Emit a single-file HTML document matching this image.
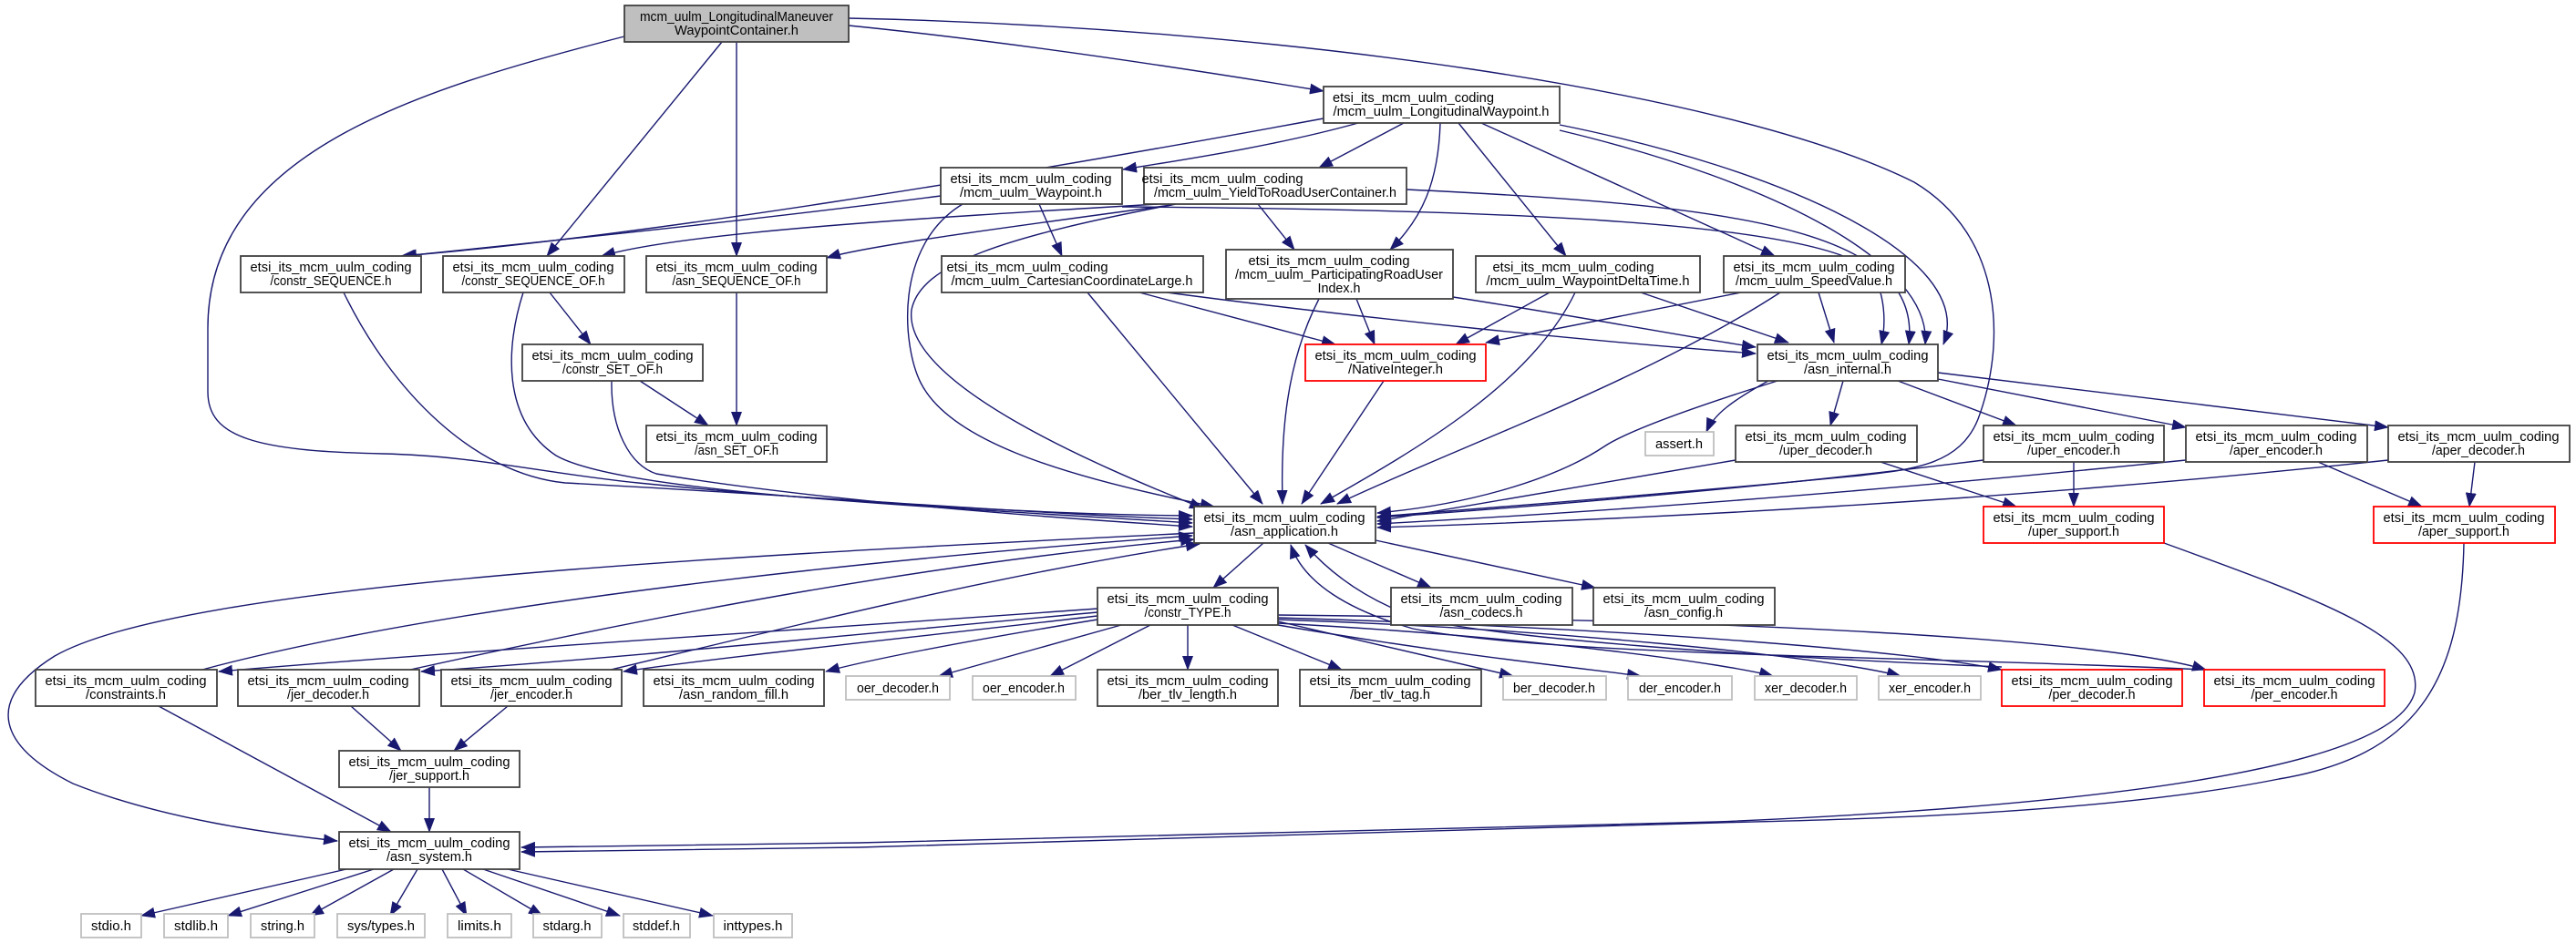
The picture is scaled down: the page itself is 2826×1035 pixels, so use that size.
<!DOCTYPE html>
<html><head><meta charset="utf-8"><style>
html,body{margin:0;padding:0;background:#fff;}
svg{display:block;}
text{font-family:"Liberation Sans Narrow","Liberation Sans",sans-serif;font-size:15px;fill:#000;text-anchor:middle;}
.e path{fill:none;stroke:#191970;stroke-width:1.4;}
.b{fill:#fff;stroke:#404040;stroke-width:1.8;}
.g{fill:#fff;stroke:#bfbfbf;stroke-width:1.8;}
.r{fill:#fff;stroke:#ff0000;stroke-width:1.8;}
</style></head><body>
<svg width="2826" height="1035" viewBox="0 0 2826 1035" xmlns="http://www.w3.org/2000/svg">
<defs><marker id="a" markerWidth="16" markerHeight="12" refX="15" refY="6" orient="auto" markerUnits="userSpaceOnUse"><path d="M0,0 L16,6 L0,12 z" fill="#191970"/></marker></defs>
<g class="e" marker-end="url(#a)">
<path d="M931,28 C1100,45 1300,75 1452,100" marker-end="url(#a)"/>
<path d="M931,20 C1400,30 1900,100 2100,200 C2200,260 2200,380 2170,460 C2150,510 2100,515 2040,522 C1800,545 1600,560 1511,567" marker-end="url(#a)"/>
<path d="M685,40 C450,100 228,170 228,360 L228,430 C228,480 280,495 420,498 C520,500 600,520 700,530 C900,550 1150,565 1308,566" marker-end="url(#a)"/>
<path d="M792,46 L600,281" marker-end="url(#a)"/>
<path d="M808,46 L808,281" marker-end="url(#a)"/>
<path d="M1452,130 C1100,195 700,260 440,281" marker-end="url(#a)"/>
<path d="M1490,135 C1400,160 1300,175 1232,186" marker-end="url(#a)"/>
<path d="M1540,135 L1447,184" marker-end="url(#a)"/>
<path d="M1580,135 C1578,200 1560,240 1525,274" marker-end="url(#a)"/>
<path d="M1600,135 L1718,281" marker-end="url(#a)"/>
<path d="M1625,135 L1947,281" marker-end="url(#a)"/>
<path d="M1711,137 C1950,185 2170,280 2132,378" marker-end="url(#a)"/>
<path d="M1711,143 C1950,200 2120,290 2112,378" marker-end="url(#a)"/>
<path d="M1543,208 C1900,225 2110,250 2094,378" marker-end="url(#a)"/>
<path d="M1231,227 C1600,230 2000,240 2055,300 C2070,330 2068,360 2064,378" marker-end="url(#a)"/>
<path d="M1280,321 C1500,350 1750,375 1926,388" marker-end="url(#a)"/>
<path d="M1594,326 C1750,350 1850,370 1926,381" marker-end="url(#a)"/>
<path d="M1800,321 L1962,376" marker-end="url(#a)"/>
<path d="M1995,321 L2012,376" marker-end="url(#a)"/>
<path d="M1700,321 L1597,378" marker-end="url(#a)"/>
<path d="M1910,321 L1630,376" marker-end="url(#a)"/>
<path d="M1250,321 L1465,378" marker-end="url(#a)"/>
<path d="M1488,328 L1508,378" marker-end="url(#a)"/>
<path d="M1380,224 L1420,274" marker-end="url(#a)"/>
<path d="M1140,224 L1165,281" marker-end="url(#a)"/>
<path d="M377,321 C430,430 520,520 620,530 C900,545 1150,565 1308,570" marker-end="url(#a)"/>
<path d="M574,321 C555,380 550,460 610,500 C680,540 1000,555 1308,574" marker-end="url(#a)"/>
<path d="M671,418 C670,470 690,510 720,520 C900,550 1150,568 1308,578" marker-end="url(#a)"/>
<path d="M1056,224 C980,270 990,380 1010,420 C1040,480 1150,520 1332,556" marker-end="url(#a)"/>
<path d="M1290,224 C1100,260 1010,290 1000,340 C990,420 1200,510 1320,558" marker-end="url(#a)"/>
<path d="M1193,321 L1385,553" marker-end="url(#a)"/>
<path d="M1447,328 C1410,400 1405,480 1407,553" marker-end="url(#a)"/>
<path d="M1518,418 L1428,553" marker-end="url(#a)"/>
<path d="M1728,321 C1680,420 1560,490 1449,553" marker-end="url(#a)"/>
<path d="M1953,321 C1800,420 1600,490 1467,553" marker-end="url(#a)"/>
<path d="M1950,418 C1880,440 1790,470 1760,490 C1700,530 1600,555 1511,563" marker-end="url(#a)"/>
<path d="M1904,505 L1511,572" marker-end="url(#a)"/>
<path d="M2176,505 C1900,540 1600,562 1511,568" marker-end="url(#a)"/>
<path d="M2398,505 C2000,545 1700,565 1511,575" marker-end="url(#a)"/>
<path d="M2620,505 C2200,550 1800,570 1511,579" marker-end="url(#a)"/>
<path d="M1940,418 C1900,440 1880,455 1872,474" marker-end="url(#a)"/>
<path d="M2022,418 L2008,467" marker-end="url(#a)"/>
<path d="M2082,418 L2212,467" marker-end="url(#a)"/>
<path d="M2126,416 L2398,469" marker-end="url(#a)"/>
<path d="M2126,409 L2620,469" marker-end="url(#a)"/>
<path d="M2063,507 L2212,556" marker-end="url(#a)"/>
<path d="M2275,507 L2275,556" marker-end="url(#a)"/>
<path d="M2543,507 L2657,556" marker-end="url(#a)"/>
<path d="M2715,507 L2709,556" marker-end="url(#a)"/>
<path d="M2374,596 C2550,660 2660,700 2649,760 C2630,830 2400,880 1884,902 L942,925 L572,930" marker-end="url(#a)"/>
<path d="M2703,596 C2700,750 2650,830 2500,855 C2300,895 2000,900 1884,903 L942,930 L572,935" marker-end="url(#a)"/>
<path d="M1310,585 C800,610 200,640 60,720 C-20,770 0,820 80,860 C180,900 300,915 370,923" marker-end="url(#a)"/>
<path d="M1204,668 C900,690 500,715 240,737" marker-end="url(#a)"/>
<path d="M222,735 C500,660 1000,610 1308,588" marker-end="url(#a)"/>
<path d="M1204,672 C900,700 650,725 462,737" marker-end="url(#a)"/>
<path d="M450,735 C700,680 1000,620 1310,592" marker-end="url(#a)"/>
<path d="M1204,676 C1000,700 800,720 684,737" marker-end="url(#a)"/>
<path d="M670,735 C900,680 1100,630 1316,597" marker-end="url(#a)"/>
<path d="M1204,680 C1050,705 950,725 906,737" marker-end="url(#a)"/>
<path d="M1230,686 L1030,742" marker-end="url(#a)"/>
<path d="M1262,686 L1152,742" marker-end="url(#a)"/>
<path d="M1303,686 L1303,735" marker-end="url(#a)"/>
<path d="M1352,686 L1472,735" marker-end="url(#a)"/>
<path d="M1402,682 L1660,742" marker-end="url(#a)"/>
<path d="M1402,686 C1600,720 1750,735 1800,742" marker-end="url(#a)"/>
<path d="M1402,684 C1700,700 1900,730 1945,742" marker-end="url(#a)"/>
<path d="M1402,680 C1700,690 2000,720 2085,742" marker-end="url(#a)"/>
<path d="M1402,678 C1800,690 2100,715 2196,735" marker-end="url(#a)"/>
<path d="M1402,675 C1900,680 2300,700 2420,735" marker-end="url(#a)"/>
<path d="M2196,732 C1900,720 1650,700 1560,680 C1500,660 1460,630 1432,598" marker-end="url(#a)"/>
<path d="M2418,735 C2100,720 1700,720 1550,690 C1480,670 1430,640 1416,598" marker-end="url(#a)"/>
<path d="M1386,596 L1331,645" marker-end="url(#a)"/>
<path d="M1457,596 L1570,645" marker-end="url(#a)"/>
<path d="M1509,593 L1750,645" marker-end="url(#a)"/>
<path d="M174,775 L429,913" marker-end="url(#a)"/>
<path d="M385,775 L440,824" marker-end="url(#a)"/>
<path d="M557,775 L498,824" marker-end="url(#a)"/>
<path d="M471,864 L471,913" marker-end="url(#a)"/>
<path d="M380,954 L155,1005" marker-end="url(#a)"/>
<path d="M410,954 L250,1005" marker-end="url(#a)"/>
<path d="M432,954 L340,1005" marker-end="url(#a)"/>
<path d="M458,954 L428,1005" marker-end="url(#a)"/>
<path d="M485,954 L512,1005" marker-end="url(#a)"/>
<path d="M508,954 L595,1005" marker-end="url(#a)"/>
<path d="M530,954 L680,1005" marker-end="url(#a)"/>
<path d="M557,954 L782,1005" marker-end="url(#a)"/>
<path d="M1270,224 C1000,240 750,255 660,281" marker-end="url(#a)"/>
<path d="M1285,225 C1100,250 950,270 907,283" marker-end="url(#a)"/>
<path d="M1032,215 C800,245 550,270 442,281" marker-end="url(#a)"/>
<path d="M603,321 L648,378" marker-end="url(#a)"/>
<path d="M808,321 L808,467" marker-end="url(#a)"/>
<path d="M702,418 L777,467" marker-end="url(#a)"/>
</g>

<!-- nodes -->
<rect x="685" y="6" width="246" height="40" fill="#bfbfbf" stroke="#404040" stroke-width="1.8"/>
<text x="808" y="23" textLength="212" lengthAdjust="spacingAndGlyphs">mcm_uulm_LongitudinalManeuver</text>
<text x="808" y="38" textLength="136" lengthAdjust="spacingAndGlyphs">WaypointContainer.h</text>

<rect class="b" x="1452" y="95" width="259" height="40"/>
<text x="1581" y="112" textLength="177" lengthAdjust="spacingAndGlyphs" style="text-anchor:start" transform="translate(-119,0)">etsi_its_mcm_uulm_coding</text>
<text x="1581" y="127" textLength="237" lengthAdjust="spacingAndGlyphs">/mcm_uulm_LongitudinalWaypoint.h</text>

<rect class="b" x="1032" y="184" width="199" height="40"/>
<text x="1131" y="201" textLength="177" lengthAdjust="spacingAndGlyphs">etsi_its_mcm_uulm_coding</text>
<text x="1131" y="216" textLength="156" lengthAdjust="spacingAndGlyphs">/mcm_uulm_Waypoint.h</text>

<rect class="b" x="1255" y="184" width="288" height="40"/>
<text x="1341" y="201" textLength="177" lengthAdjust="spacingAndGlyphs">etsi_its_mcm_uulm_coding</text>
<text x="1399" y="216" textLength="266" lengthAdjust="spacingAndGlyphs">/mcm_uulm_YieldToRoadUserContainer.h</text>

<rect class="b" x="264" y="281" width="198" height="40"/>
<text x="363" y="298" textLength="177" lengthAdjust="spacingAndGlyphs">etsi_its_mcm_uulm_coding</text>
<text x="363" y="313" textLength="133" lengthAdjust="spacingAndGlyphs">/constr_SEQUENCE.h</text>

<rect class="b" x="486" y="281" width="199" height="40"/>
<text x="585" y="298" textLength="177" lengthAdjust="spacingAndGlyphs">etsi_its_mcm_uulm_coding</text>
<text x="585" y="313" textLength="157" lengthAdjust="spacingAndGlyphs">/constr_SEQUENCE_OF.h</text>

<rect class="b" x="709" y="281" width="198" height="40"/>
<text x="808" y="298" textLength="177" lengthAdjust="spacingAndGlyphs">etsi_its_mcm_uulm_coding</text>
<text x="808" y="313" textLength="141" lengthAdjust="spacingAndGlyphs">/asn_SEQUENCE_OF.h</text>

<rect class="b" x="1033" y="281" width="287" height="40"/>
<text x="1127" y="298" textLength="177" lengthAdjust="spacingAndGlyphs">etsi_its_mcm_uulm_coding</text>
<text x="1176" y="313" textLength="265" lengthAdjust="spacingAndGlyphs">/mcm_uulm_CartesianCoordinateLarge.h</text>

<rect class="b" x="1345" y="274" width="249" height="54"/>
<text x="1458" y="291" textLength="177" lengthAdjust="spacingAndGlyphs">etsi_its_mcm_uulm_coding</text>
<text x="1469" y="306" textLength="228" lengthAdjust="spacingAndGlyphs">/mcm_uulm_ParticipatingRoadUser</text>
<text x="1469" y="321" textLength="47" lengthAdjust="spacingAndGlyphs">Index.h</text>

<rect class="b" x="1619" y="281" width="246" height="40"/>
<text x="1726" y="298" textLength="177" lengthAdjust="spacingAndGlyphs">etsi_its_mcm_uulm_coding</text>
<text x="1742" y="313" textLength="223" lengthAdjust="spacingAndGlyphs">/mcm_uulm_WaypointDeltaTime.h</text>

<rect class="b" x="1891" y="281" width="199" height="40"/>
<text x="1990" y="298" textLength="177" lengthAdjust="spacingAndGlyphs">etsi_its_mcm_uulm_coding</text>
<text x="1990" y="313" textLength="172" lengthAdjust="spacingAndGlyphs">/mcm_uulm_SpeedValue.h</text>

<rect class="b" x="573" y="378" width="198" height="40"/>
<text x="672" y="395" textLength="177" lengthAdjust="spacingAndGlyphs">etsi_its_mcm_uulm_coding</text>
<text x="672" y="410" textLength="110" lengthAdjust="spacingAndGlyphs">/constr_SET_OF.h</text>

<rect class="r" x="1432" y="378" width="198" height="40"/>
<text x="1531" y="395" textLength="177" lengthAdjust="spacingAndGlyphs">etsi_its_mcm_uulm_coding</text>
<text x="1531" y="410" textLength="104" lengthAdjust="spacingAndGlyphs">/NativeInteger.h</text>

<rect class="b" x="1928" y="378" width="198" height="40"/>
<text x="2027" y="395" textLength="177" lengthAdjust="spacingAndGlyphs">etsi_its_mcm_uulm_coding</text>
<text x="2027" y="410" textLength="96" lengthAdjust="spacingAndGlyphs">/asn_internal.h</text>

<rect class="g" x="1805" y="474" width="75" height="26"/>
<text x="1842" y="492" textLength="52" lengthAdjust="spacingAndGlyphs">assert.h</text>

<rect class="b" x="709" y="467" width="198" height="40"/>
<text x="808" y="484" textLength="177" lengthAdjust="spacingAndGlyphs">etsi_its_mcm_uulm_coding</text>
<text x="808" y="499" textLength="92" lengthAdjust="spacingAndGlyphs">/asn_SET_OF.h</text>

<rect class="b" x="1904" y="467" width="199" height="40"/>
<text x="2003" y="484" textLength="177" lengthAdjust="spacingAndGlyphs">etsi_its_mcm_uulm_coding</text>
<text x="2003" y="499" textLength="102" lengthAdjust="spacingAndGlyphs">/uper_decoder.h</text>

<rect class="b" x="2176" y="467" width="198" height="40"/>
<text x="2275" y="484" textLength="177" lengthAdjust="spacingAndGlyphs">etsi_its_mcm_uulm_coding</text>
<text x="2275" y="499" textLength="102" lengthAdjust="spacingAndGlyphs">/uper_encoder.h</text>

<rect class="b" x="2398" y="467" width="199" height="40"/>
<text x="2497" y="484" textLength="177" lengthAdjust="spacingAndGlyphs">etsi_its_mcm_uulm_coding</text>
<text x="2497" y="499" textLength="102" lengthAdjust="spacingAndGlyphs">/aper_encoder.h</text>

<rect class="b" x="2620" y="467" width="199" height="40"/>
<text x="2719" y="484" textLength="177" lengthAdjust="spacingAndGlyphs">etsi_its_mcm_uulm_coding</text>
<text x="2719" y="499" textLength="102" lengthAdjust="spacingAndGlyphs">/aper_decoder.h</text>

<rect class="b" x="1310" y="556" width="199" height="40"/>
<text x="1409" y="573" textLength="177" lengthAdjust="spacingAndGlyphs">etsi_its_mcm_uulm_coding</text>
<text x="1409" y="588" textLength="118" lengthAdjust="spacingAndGlyphs">/asn_application.h</text>

<rect class="r" x="2176" y="556" width="198" height="40"/>
<text x="2275" y="573" textLength="177" lengthAdjust="spacingAndGlyphs">etsi_its_mcm_uulm_coding</text>
<text x="2275" y="588" textLength="100" lengthAdjust="spacingAndGlyphs">/uper_support.h</text>

<rect class="r" x="2604" y="556" width="199" height="40"/>
<text x="2703" y="573" textLength="177" lengthAdjust="spacingAndGlyphs">etsi_its_mcm_uulm_coding</text>
<text x="2703" y="588" textLength="100" lengthAdjust="spacingAndGlyphs">/aper_support.h</text>

<rect class="b" x="1204" y="645" width="198" height="41"/>
<text x="1303" y="662" textLength="177" lengthAdjust="spacingAndGlyphs">etsi_its_mcm_uulm_coding</text>
<text x="1303" y="677" textLength="95" lengthAdjust="spacingAndGlyphs">/constr_TYPE.h</text>

<rect class="b" x="1526" y="645" width="199" height="41"/>
<text x="1625" y="662" textLength="177" lengthAdjust="spacingAndGlyphs">etsi_its_mcm_uulm_coding</text>
<text x="1625" y="677" textLength="91" lengthAdjust="spacingAndGlyphs">/asn_codecs.h</text>

<rect class="b" x="1748" y="645" width="199" height="41"/>
<text x="1847" y="662" textLength="177" lengthAdjust="spacingAndGlyphs">etsi_its_mcm_uulm_coding</text>
<text x="1847" y="677" textLength="86" lengthAdjust="spacingAndGlyphs">/asn_config.h</text>

<rect class="b" x="39" y="735" width="199" height="40"/>
<text x="138" y="752" textLength="177" lengthAdjust="spacingAndGlyphs">etsi_its_mcm_uulm_coding</text>
<text x="138" y="767" textLength="88" lengthAdjust="spacingAndGlyphs">/constraints.h</text>

<rect class="b" x="261" y="735" width="199" height="40"/>
<text x="360" y="752" textLength="177" lengthAdjust="spacingAndGlyphs">etsi_its_mcm_uulm_coding</text>
<text x="360" y="767" textLength="90" lengthAdjust="spacingAndGlyphs">/jer_decoder.h</text>

<rect class="b" x="484" y="735" width="198" height="40"/>
<text x="583" y="752" textLength="177" lengthAdjust="spacingAndGlyphs">etsi_its_mcm_uulm_coding</text>
<text x="583" y="767" textLength="90" lengthAdjust="spacingAndGlyphs">/jer_encoder.h</text>

<rect class="b" x="706" y="735" width="198" height="40"/>
<text x="805" y="752" textLength="177" lengthAdjust="spacingAndGlyphs">etsi_its_mcm_uulm_coding</text>
<text x="805" y="767" textLength="120" lengthAdjust="spacingAndGlyphs">/asn_random_fill.h</text>

<rect class="g" x="928" y="742" width="114" height="26"/>
<text x="985" y="760" textLength="90" lengthAdjust="spacingAndGlyphs">oer_decoder.h</text>
<rect class="g" x="1067" y="742" width="113" height="26"/>
<text x="1123" y="760" textLength="90" lengthAdjust="spacingAndGlyphs">oer_encoder.h</text>

<rect class="b" x="1204" y="735" width="198" height="40"/>
<text x="1303" y="752" textLength="177" lengthAdjust="spacingAndGlyphs">etsi_its_mcm_uulm_coding</text>
<text x="1303" y="767" textLength="108" lengthAdjust="spacingAndGlyphs">/ber_tlv_length.h</text>

<rect class="b" x="1426" y="735" width="199" height="40"/>
<text x="1525" y="752" textLength="177" lengthAdjust="spacingAndGlyphs">etsi_its_mcm_uulm_coding</text>
<text x="1525" y="767" textLength="88" lengthAdjust="spacingAndGlyphs">/ber_tlv_tag.h</text>

<rect class="g" x="1649" y="742" width="113" height="26"/>
<text x="1705" y="760" textLength="90" lengthAdjust="spacingAndGlyphs">ber_decoder.h</text>
<rect class="g" x="1786" y="742" width="114" height="26"/>
<text x="1843" y="760" textLength="90" lengthAdjust="spacingAndGlyphs">der_encoder.h</text>
<rect class="g" x="1925" y="742" width="112" height="26"/>
<text x="1981" y="760" textLength="90" lengthAdjust="spacingAndGlyphs">xer_decoder.h</text>
<rect class="g" x="2061" y="742" width="112" height="26"/>
<text x="2117" y="760" textLength="90" lengthAdjust="spacingAndGlyphs">xer_encoder.h</text>

<rect class="r" x="2196" y="735" width="198" height="40"/>
<text x="2295" y="752" textLength="177" lengthAdjust="spacingAndGlyphs">etsi_its_mcm_uulm_coding</text>
<text x="2295" y="767" textLength="95" lengthAdjust="spacingAndGlyphs">/per_decoder.h</text>

<rect class="r" x="2418" y="735" width="198" height="40"/>
<text x="2517" y="752" textLength="177" lengthAdjust="spacingAndGlyphs">etsi_its_mcm_uulm_coding</text>
<text x="2517" y="767" textLength="95" lengthAdjust="spacingAndGlyphs">/per_encoder.h</text>

<rect class="b" x="372" y="824" width="198" height="40"/>
<text x="471" y="841" textLength="177" lengthAdjust="spacingAndGlyphs">etsi_its_mcm_uulm_coding</text>
<text x="471" y="856" textLength="88" lengthAdjust="spacingAndGlyphs">/jer_support.h</text>

<rect class="b" x="372" y="913" width="198" height="41"/>
<text x="471" y="930" textLength="177" lengthAdjust="spacingAndGlyphs">etsi_its_mcm_uulm_coding</text>
<text x="471" y="945" textLength="94" lengthAdjust="spacingAndGlyphs">/asn_system.h</text>

<rect class="g" x="89" y="1003" width="66" height="26"/>
<text x="122" y="1021" textLength="44" lengthAdjust="spacingAndGlyphs">stdio.h</text>
<rect class="g" x="180" y="1003" width="70" height="26"/>
<text x="215" y="1021" textLength="48" lengthAdjust="spacingAndGlyphs">stdlib.h</text>
<rect class="g" x="275" y="1003" width="70" height="26"/>
<text x="310" y="1021" textLength="48" lengthAdjust="spacingAndGlyphs">string.h</text>
<rect class="g" x="370" y="1003" width="96" height="26"/>
<text x="418" y="1021" textLength="74" lengthAdjust="spacingAndGlyphs">sys/types.h</text>
<rect class="g" x="491" y="1003" width="70" height="26"/>
<text x="526" y="1021" textLength="48" lengthAdjust="spacingAndGlyphs">limits.h</text>
<rect class="g" x="585" y="1003" width="75" height="26"/>
<text x="622" y="1021" textLength="53" lengthAdjust="spacingAndGlyphs">stdarg.h</text>
<rect class="g" x="684" y="1003" width="73" height="26"/>
<text x="720" y="1021" textLength="52" lengthAdjust="spacingAndGlyphs">stddef.h</text>
<rect class="g" x="783" y="1003" width="86" height="26"/>
<text x="826" y="1021" textLength="65" lengthAdjust="spacingAndGlyphs">inttypes.h</text>
</svg>
</body></html>
